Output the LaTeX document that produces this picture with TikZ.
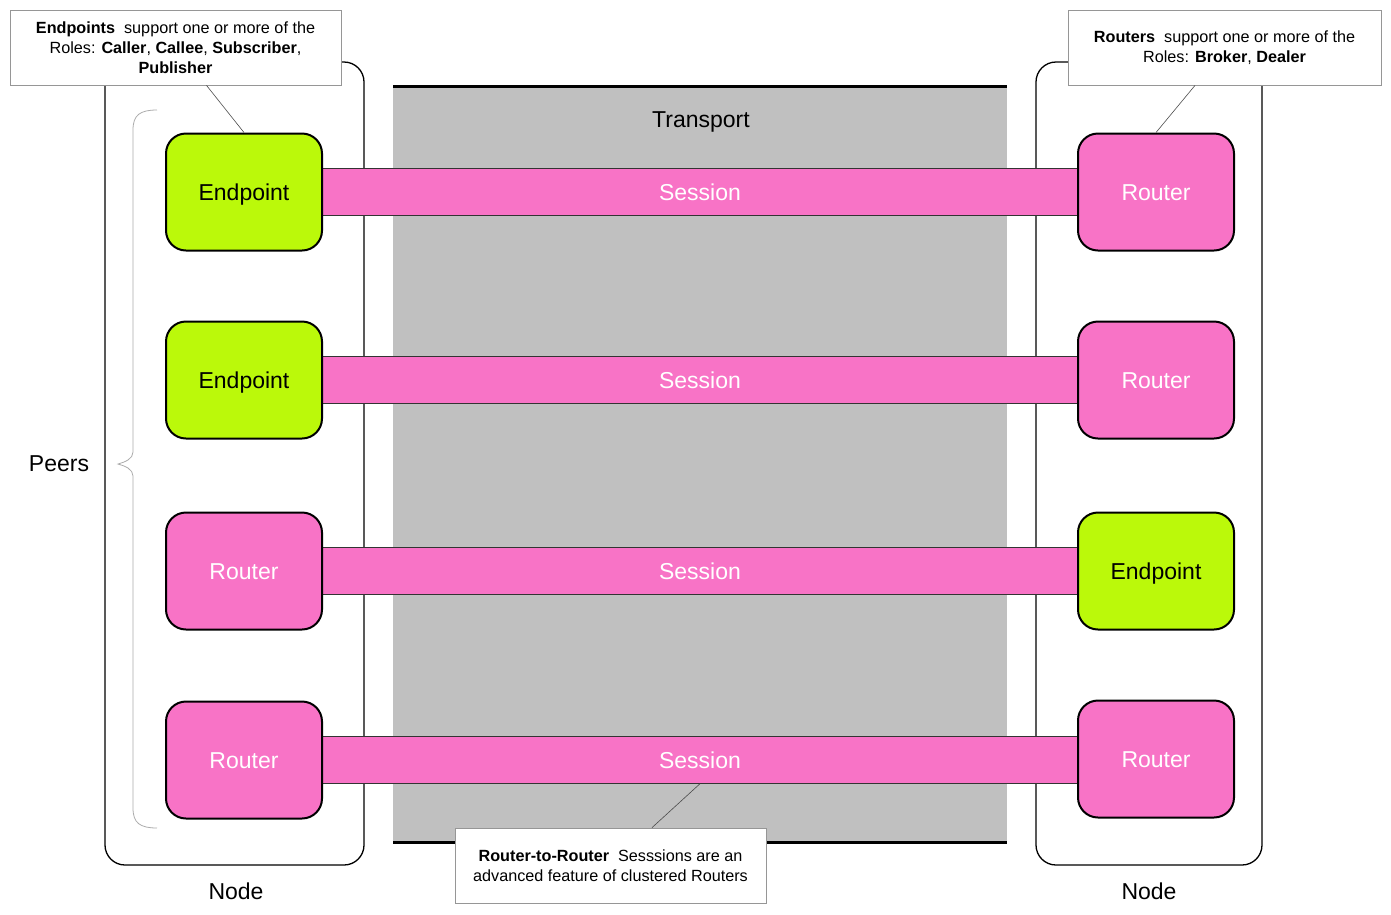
\documentclass[tikz,border=0pt]{standalone}
\usepackage{fontspec}
\setmainfont{Liberation Sans}
\usetikzlibrary{positioning}
\definecolor{peerpink}{RGB}{248,115,198}
\definecolor{peergreen}{RGB}{187,249,10}
\definecolor{transgray}{RGB}{192,192,192}
\definecolor{notegray}{RGB}{150,150,150}

\begin{document}
\begin{tikzpicture}[x=1pt,y=-1pt]
\tikzstyle{big}=[font=\fontsize{23}{28}\selectfont, text height=16.5pt, text depth=0pt]
\tikzstyle{peer}=[draw=black, line width=2pt, rounded corners=20pt, minimum width=156pt, minimum height=117pt, inner sep=0pt, big]
\tikzstyle{endpoint}=[peer, fill=peergreen, text=black]
\tikzstyle{router}=[peer, fill=peerpink, text=white]
\tikzstyle{session}=[fill=peerpink, minimum width=756pt, minimum height=47pt, inner sep=0pt, text=white, big]
\tikzstyle{note}=[draw=notegray, fill=white, line width=0.8pt, align=center, inner sep=0pt, minimum height=75pt, font=\fontsize{16.2}{20}\selectfont]
\tikzstyle{pointer}=[draw=black!70, line width=0.6pt]
\useasboundingbox (0,0) rectangle (1391,914);

% the two nodes
\draw[line width=1.3pt, rounded corners=20pt] (105,62) rectangle (364,865);
\draw[line width=1.3pt, rounded corners=20pt] (1036,62) rectangle (1262,865);
\node[big] (lnode) at (236,891) {Node};
\node[big] (rnode) at (1149,891) {Node};

% transport
\fill[transgray] (393,86) rectangle (1007,842);
\draw[line width=3pt] (393,86) -- (1007,86);
\draw[line width=3pt] (393,842) -- (1007,842);
\node[big] (transport) at (701,119) {Transport};

% sessions
\foreach \y/\n in {192/1,380/2,571/3,760/4} {
  \node[session] (s\n) at (700,\y) {Session};
  \draw[black!80, line width=1pt] (s\n.north west) -- (s\n.north east);
  \draw[black!80, line width=1pt] (s\n.south west) -- (s\n.south east);
}

% peers
\node[endpoint] (l1) at (244,192) {Endpoint};
\node[endpoint] (l2) at (244,380) {Endpoint};
\node[router] (l3) at (244,571) {Router};
\node[router] (l4) at (244,760) {Router};
\node[router] (r1) at (1156,192) {Router};
\node[router] (r2) at (1156,380) {Router};
\node[endpoint] (r3) at (1156,571) {Endpoint};
\node[router] (r4) at (1156,759) {Router};

% brace
\draw[notegray!80, line width=0.8pt] (157,110) .. controls (140,110) and (133,115) .. (133,130) -- (133,452)
  .. controls (133,459) and (125,462) .. (118,464) .. controls (125,466) and (133,469) .. (133,476)
  -- (133,808) .. controls (133,823) and (140,828) .. (157,828);
\node[big] (peers) at (59,463) {Peers};

% notes
\node[note, minimum width=331pt] (epnote) at (175.5,47.5) {\textbf{Endpoints}\ \ support one or more of the\\ Roles: \textbf{Caller}, \textbf{Callee}, \textbf{Subscriber},\\ \textbf{Publisher}};
\node[note, minimum width=313pt] (rnote) at (1224.5,47.5) {\textbf{Routers}\ \ support one or more of the\\ Roles: \textbf{Broker}, \textbf{Dealer}};
\node[note, minimum width=311pt] (rrnote) at (610.5,865.5) {\textbf{Router-to-Router}\ \ Sesssions are an\\ advanced feature of clustered Routers};
\draw[pointer] ([xshift=31pt]epnote.south) -- (l1.north);
\draw[pointer] ([xshift=-29.5pt]rnote.south) -- (r1.north);
\draw[pointer] ([xshift=41.5pt]rrnote.north) -- (s4.south);
\end{tikzpicture}
\end{document}
